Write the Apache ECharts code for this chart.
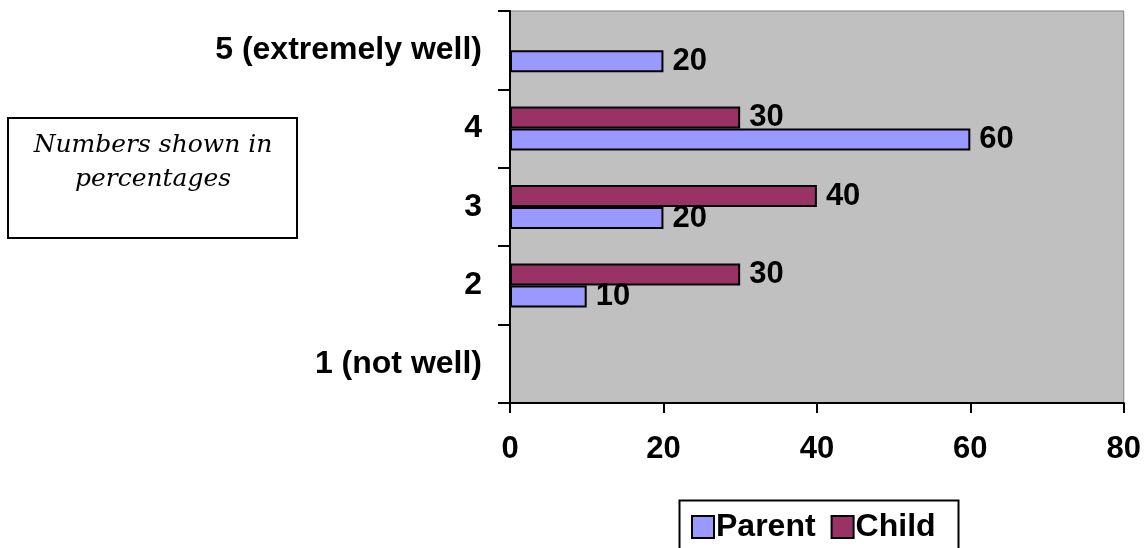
<!DOCTYPE html>
<html>
<head>
<meta charset="utf-8">
<script src="https://cdn.jsdelivr.net/npm/echarts@6/dist/echarts.min.js"></script>
<style>
html,body{margin:0;padding:0;background:#fff;}
#chart{width:1144px;height:548px;}
</style>
</head>
<body>
<div id="chart"></div>
<script>
var categories = ['1 (not well)', '2', '3', '4', '5 (extremely well)'];
var parentValues = [null, 10, 20, 60, 20];
var childValues = [null, 30, 40, 30, null];
var xTicks = [0, 20, 40, 60, 80];
var noteLines = ['Numbers shown in', 'percentages'];

var chart = echarts.init(document.getElementById('chart'));
var labelStyle = {
  show: true, position: 'right', distance: 9,
  color: '#000', fontFamily: 'Liberation Sans, Arial, sans-serif',
  fontWeight: 'bold', fontSize: 31
};
chart.setOption({
  animation: false,
  backgroundColor: '#fff',
  grid: {
    left: 510, right: 19, top: 11, bottom: 145,
    show: true, backgroundColor: '#C0C0C0', borderColor: '#808080', borderWidth: 1
  },
  xAxis: {
    type: 'value', min: xTicks[0], max: xTicks[xTicks.length - 1], interval: 20,
    axisLine: { show: true, lineStyle: { color: '#000', width: 2 } },
    axisTick: { show: true, length: 10, lineStyle: { color: '#000', width: 2 } },
    splitLine: { show: false },
    axisLabel: {
      margin: 31, color: '#000', fontFamily: 'Liberation Sans, Arial, sans-serif',
      fontWeight: 'bold', fontSize: 31
    }
  },
  yAxis: {
    type: 'category', data: categories,
    axisLine: { show: true, lineStyle: { color: '#000', width: 2 } },
    axisTick: { show: true, length: 12, lineStyle: { color: '#000', width: 2 } },
    axisLabel: {
      margin: 28, color: '#000', fontFamily: 'Liberation Sans, Arial, sans-serif',
      fontWeight: 'bold', fontSize: 32
    }
  },
  legend: {
    data: ['Parent', 'Child'],
    left: 686, top: 506,
    itemWidth: 22, itemHeight: 22, itemGap: 15,
    icon: 'rect',
    itemStyle: { borderColor: '#000', borderWidth: 2 },
    textStyle: {
      color: '#000', fontFamily: 'Liberation Sans, Arial, sans-serif',
      fontWeight: 'bold', fontSize: 32, padding: [0, 0, 0, -3]
    }
  },
  graphic: [
    { type: 'rect', left: 677, top: 498, shape: { width: 279, height: 52 },
      style: { fill: 'none', stroke: '#000', lineWidth: 2 }, z: 100 },
    { type: 'rect', left: 7, top: 117, shape: { width: 289, height: 120 },
      style: { fill: '#fff', stroke: '#000', lineWidth: 2 } },
    { type: 'text', x: 153, y: 128, style: {
        text: noteLines.join('\n'), align: 'center', verticalAlign: 'top',
        fill: '#000', font: 'italic 25px "DejaVu Serif", serif', lineHeight: 34 } }
  ],
  series: [
    { name: 'Child', type: 'bar', data: childValues, barWidth: 22, barGap: '0%',
      itemStyle: { color: '#993366', borderColor: '#000', borderWidth: 2 },
      label: labelStyle },
    { name: 'Parent', type: 'bar', data: parentValues, barWidth: 22, barGap: '0%',
      itemStyle: { color: '#9999FF', borderColor: '#000', borderWidth: 2 },
      label: labelStyle }
  ]
});
</script>
</body>
</html>
